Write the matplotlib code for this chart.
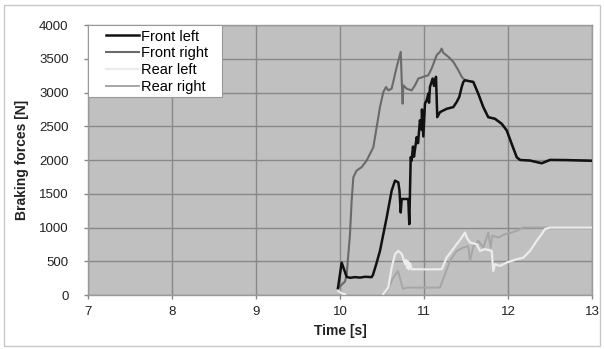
import numpy as np
import matplotlib
matplotlib.use("Agg")
import matplotlib.pyplot as plt
from matplotlib.patches import Rectangle
from matplotlib.legend_handler import HandlerLine2D

plt.rcParams['font.family'] = ['Liberation Sans', 'DejaVu Sans']

nan = np.nan

# Brake force traces [time s, force N]
front_left_t = [9.976, 10.020, 10.080, 10.119, 10.179, 10.238, 10.298, 10.377, 10.393, 10.43,
                10.476, 10.556, 10.615, 10.655, 10.694, 10.708, 10.723, 10.735, 10.813, 10.825,
                10.842, 10.853, 10.869, 10.881, 10.913, 10.929, 10.952, 10.970, 10.976, 10.992,
                11.012, 11.032, 11.051, 11.06, 11.071, 11.103, 11.119, 11.143, 11.158, 11.190,
                11.270, 11.349, 11.389, 11.420, 11.449, 11.468, 11.488, 11.587, 11.646, 11.706,
                11.765, 11.845, 11.925, 11.985, 12.044, 12.104, 12.143, 12.262, 12.401, 12.5,
                12.699, 12.996]
front_left_f = [104, 480, 268, 255, 265, 258, 270, 265, 300, 450,
                654, 1150, 1546, 1695, 1670, 1550, 1224, 1423, 1423, 1050,
                2042, 1990, 2200, 2050, 2340, 2250, 2590, 2450, 2750, 2350,
                2840, 2885, 2985, 2850, 3083, 3208, 3100, 3234, 2636, 2710,
                2760, 2785, 2860, 2935, 3083, 3158, 3182, 3158, 2985, 2785,
                2636, 2612, 2538, 2439, 2240, 2042, 2002, 1993, 1953, 2002,
                2000, 1990]

front_right_t = [9.976, 10.060, 10.080, 10.119, 10.139, 10.159, 10.198, 10.258, 10.317, 10.397,
                 10.437, 10.476, 10.516, 10.548, 10.575, 10.615, 10.675, 10.723, 10.738, 10.746,
                 10.754, 10.794, 10.853, 10.893, 10.933, 10.992, 11.051, 11.091, 11.151, 11.190,
                 11.210, 11.230, 11.290, 11.349, 11.409, 11.449, 11.488, 11.587, 11.646, 11.706,
                 11.765, 11.845, 11.925, 11.985, 12.044, 12.104, 12.143, 12.262, 12.401, 12.5,
                 12.699, 12.996]
front_right_f = [100, 200, 310, 900, 1400, 1745, 1845, 1895, 1993, 2190,
                 2490, 2785, 3008, 3083, 3033, 3058, 3380, 3603, 3083, 2835,
                 3108, 3058, 3033, 3108, 3208, 3234, 3257, 3357, 3555, 3603,
                 3653, 3590, 3530, 3457, 3331, 3234, 3182, 3158, 2985, 2785,
                 2636, 2612, 2538, 2439, 2240, 2042, 2002, 1993, 1953, 2002,
                 2000, 1990]

rear_left_t = [9.98, 10.0, 10.03, 10.06, nan,
               10.515, 10.575, 10.615, 10.655, 10.694, 10.735, 10.774, 10.786, 10.798, 10.81,
               10.82, 10.833, 10.853, 11.071, 11.211, 11.27, 11.33, 11.389, 11.449, 11.488,
               11.508, 11.548, 11.627, 11.667, 11.726, 11.806, 11.825, 11.845, 11.905, 11.985,
               12.104, 12.183, 12.262, 12.342, 12.401, 12.44, 12.5, 13.0]
rear_left_f = [60, 40, 20, 10, nan,
               15, 110, 406, 605, 654, 610, 460, 520, 400, 500,
               380, 470, 382, 380, 382, 555, 654, 753, 852, 926,
               852, 778, 753, 654, 680, 654, 357, 456, 431, 481,
               530, 555, 654, 803, 902, 977, 1000, 1000]

rear_right_t = [10.512, 10.571, 10.631, 10.69, 10.714, 10.75, 10.798, 11.19, 11.25, 11.31,
                11.389, 11.468, 11.527, 11.548, 11.587, 11.646, 11.706, 11.746, 11.765, 11.794,
                11.81, 11.885, 11.964, 12.044, 12.123, 12.179, 13.0]
rear_right_f = [0, 80, 250, 357, 250, 90, 110, 110, 307, 506,
                654, 704, 725, 506, 720, 803, 704, 852, 926, 700,
                880, 852, 902, 926, 960, 1000, 1000]

x_ticks = [7, 8, 9, 10, 11, 12, 13]
y_ticks = [0, 500, 1000, 1500, 2000, 2500, 3000, 3500, 4000]


class ShortLineHandler(HandlerLine2D):
    """Legend handle whose line occupies only the right part of the handle box."""
    def create_artists(self, legend, orig_handle, xdescent, ydescent,
                       width, height, fontsize, trans):
        artists = super().create_artists(legend, orig_handle, xdescent, ydescent,
                                         width, height, fontsize, trans)
        for a in artists:
            xd = np.asarray(a.get_xdata(), dtype=float)
            if xd.size >= 2:
                x0 = xd[0] + 0.3 * (xd[-1] - xd[0])
                a.set_xdata(np.linspace(x0, xd[-1], xd.size))
        return artists


fig = plt.figure(figsize=(6.04, 3.49), dpi=100)
fig.patch.set_facecolor('white')
# thin frame around the whole figure
fig.patches.append(Rectangle((0.007, 0.01), 0.986, 0.975, transform=fig.transFigure,
                             fill=False, edgecolor='#c8c8c8', linewidth=1.0))

ax = fig.add_axes([0.1457, 0.1547, 0.8344, 0.7733])
ax.set_facecolor('#c0c0c0')

ax.plot(rear_right_t, rear_right_f, color='#a6a6a6', lw=1.4, label='Rear right', zorder=3)
ax.plot(rear_left_t, rear_left_f, color='#ececec', lw=1.6, label='Rear left', zorder=4)
ax.plot(front_right_t, front_right_f, color='#6a6a6a', lw=1.5, label='Front right', zorder=5)
ax.plot(front_left_t, front_left_f, color='#111111', lw=1.8, label='Front left', zorder=6)

ax.set_xlim(7, 13)
ax.set_ylim(0, 4000)
ax.set_xticks(x_ticks)
ax.set_yticks(y_ticks)
ax.grid(True, color='#888888', lw=1.0)
ax.set_axisbelow(True)
for s in ax.spines.values():
    s.set_color('#9a9a9a')
    s.set_linewidth(1.0)
ax.tick_params(axis='both', colors='#888888', labelcolor='#222222', labelsize=9.5,
               length=3, width=1)
ax.tick_params(axis='y', pad=11)
ax.tick_params(axis='x', pad=5)

ax.set_xlabel('Time [s]', fontsize=10, fontweight='bold', color='#222222', labelpad=4)
ax.set_ylabel('Braking forces [N]', fontsize=10, fontweight='bold', color='#222222', labelpad=7)

# white legend panel in the top-left corner of the plot area
ax.add_patch(Rectangle((0, 0.733), 0.266, 0.267, transform=ax.transAxes,
                       facecolor='white', edgecolor='#9a9a9a', linewidth=0.8,
                       zorder=9, clip_on=False))

handles, labels = ax.get_legend_handles_labels()
order = [3, 2, 1, 0]
leg = ax.legend([handles[i] for i in order], [labels[i] for i in order],
                loc='upper left', bbox_to_anchor=(0.0, 1.0), borderaxespad=0,
                fontsize=10.5, frameon=False, handlelength=3.2, handletextpad=0.15,
                labelspacing=0.2, borderpad=0.3,
                handler_map={h: ShortLineHandler() for h in handles})
leg.set_zorder(10)

fig.savefig('out.png', dpi=100)
